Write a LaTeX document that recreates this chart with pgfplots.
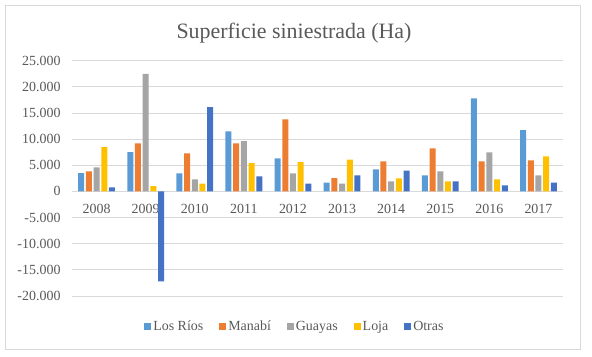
\documentclass[border=0pt]{standalone}
\usepackage{pgfplots}
\pgfplotsset{compat=1.18}
\usepackage{fontspec}
\setmainfont{Liberation Serif}
\definecolor{cA}{HTML}{5B9BD5}
\definecolor{cB}{HTML}{ED7D31}
\definecolor{cC}{HTML}{A5A5A5}
\definecolor{cD}{HTML}{FFC000}
\definecolor{cE}{HTML}{4472C4}
\definecolor{txt}{HTML}{595959}
\definecolor{grd}{HTML}{D9D9D9}
\pgfplotsset{sq/.style={legend image code/.code={\fill[##1] (0bp,-3.5bp) rectangle (7bp,3.5bp);}}}
\begin{document}
\begin{tikzpicture}[x=1bp,y=1bp]
\path[use as bounding box] (0,0) rectangle (592,356);
\draw[grd, line width=0.75bp] (5,7) rectangle (580,351);
\node[text=txt, font=\fontsize{22}{26}\selectfont, anchor=base] at (294,318) {Superficie siniestrada (Ha)};
\begin{axis}[
  at={(72bp,60bp)}, anchor=south west, scale only axis,
  width=491bp, height=235.3bp,
  xmin=-0.5, xmax=9.5, ymin=-20000, ymax=25000,
  xtick={0,...,9},
  xticklabels={2008,2009,2010,2011,2012,2013,2014,2015,2016,2017},
  ytick={-20000,-15000,-10000,-5000,0,5000,10000,15000,20000,25000},
  scaled y ticks=false,
  /pgf/number format/1000 sep={.},
  /pgf/number format/assume math mode=true,
  axis line style={draw=none}, major tick length=0pt,
  ymajorgrids, grid style={grd, line width=0.75bp},
  tick label style={text=txt, font=\fontsize{14}{16}\selectfont},
  xticklabel style={anchor=center, yshift=87.3bp},
  yticklabel style={xshift=-8bp},
  ybar=1.7bp, bar width=6bp,
  legend columns=5,
  legend style={draw=none, fill=none, at={(0.454,-0.1305)}, anchor=center,
    font=\fontsize{14}{16}\selectfont, text=txt,
    /tikz/every even column/.append style={column sep=14bp}},
]
\addplot[fill=cA, draw=none, sq] coordinates {(0,3500) (1,7500) (2,3450) (3,11500) (4,6300) (5,1700) (6,4200) (7,3070) (8,17800) (9,11700)};
\addplot[fill=cB, draw=none, sq] coordinates {(0,3850) (1,9200) (2,7300) (3,9200) (4,13800) (5,2560) (6,5750) (7,8250) (8,5750) (9,5950)};
\addplot[fill=cC, draw=none, sq] coordinates {(0,4600) (1,22500) (2,2300) (3,9600) (4,3450) (5,1500) (6,1900) (7,3840) (8,7480) (9,3070)};
\addplot[fill=cD, draw=none, sq] coordinates {(0,8450) (1,1000) (2,1500) (3,5400) (4,5600) (5,6100) (6,2500) (7,1900) (8,2300) (9,6700)};
\addplot[fill=cE, draw=none, sq] coordinates {(0,770) (1,-17200) (2,16100) (3,2900) (4,1500) (5,3070) (6,4000) (7,1900) (8,1150) (9,1700)};
\legend{Los Ríos, Manabí, Guayas, Loja, Otras}
\end{axis}
\end{tikzpicture}
\end{document}
